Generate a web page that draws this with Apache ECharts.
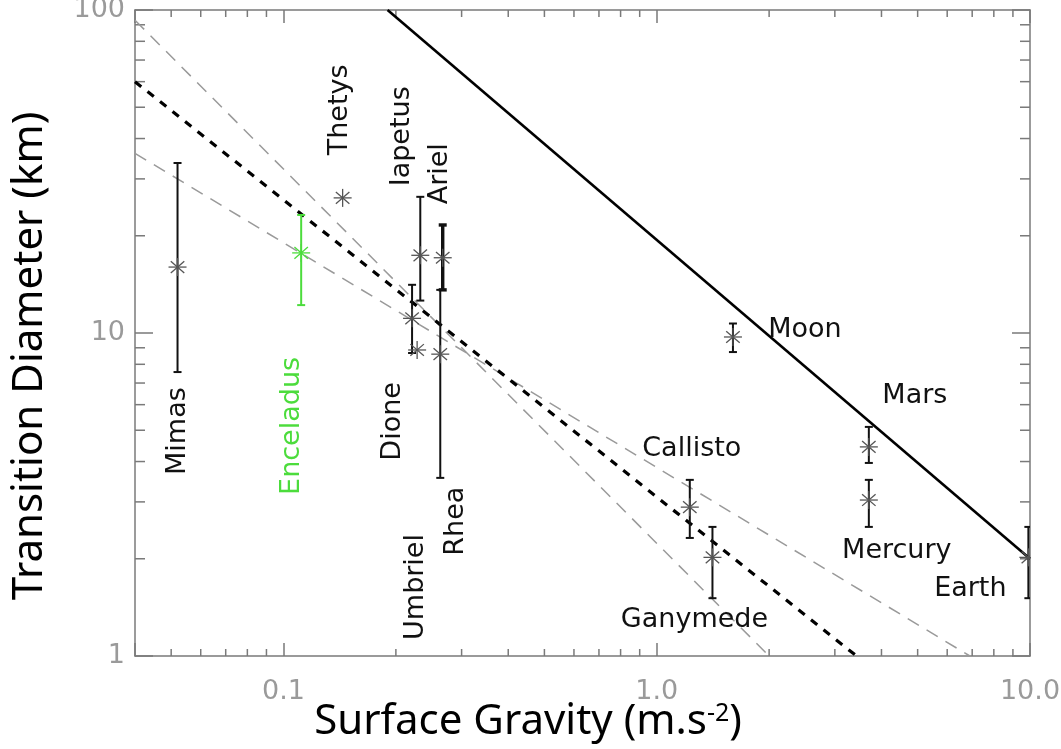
<!DOCTYPE html>
<html>
<head>
<meta charset="utf-8">
<script src="https://cdn.jsdelivr.net/npm/echarts@6/dist/echarts.min.js"></script>
<style>
html, body { margin: 0; padding: 0; background: #ffffff; }
#chart { width: 1061px; height: 749px; }
</style>
</head>
<body>
<div id="chart"></div>
<script>
// ---------------- data ----------------
const bodies       = ['Mimas', 'Enceladus', 'Thetys', 'Iapetus', 'Ariel', 'Dione', 'Umbriel', 'Rhea',
                      'Moon', 'Mars', 'Mercury', 'Earth', 'Callisto', 'Ganymede'];
const gravity      = [0.052, 0.1115, 0.144, 0.2325, 0.267, 0.221, 0.228, 0.263,
                      1.60, 3.70, 3.70, 9.9, 1.226, 1.41];
const diameter     = [16.0, 17.7, 26.2, 17.4, 17.1, 11.1, 8.86, 8.6,
                      9.72, 4.44, 3.04, 2.02, 2.89, 2.02];
const diameterHigh = [33.6, 23.2, null, 26.4, 21.6, 14.1, null, 13.6,
                      10.7, 5.12, 3.51, 2.51, 3.51, 2.51];
const diameterLow  = [7.57, 12.2, null, 12.6, 13.6, 8.67, null, 3.56,
                      8.73, 3.96, 2.51, 1.51, 2.32, 1.51];

// fitted relations (end points of each line)
const solidFitX = [0.19, 10];   const solidFitY = [100, 2];
const meanFitX  = [0.04, 3.43]; const meanFitY  = [60, 1];
const steepFitX = [0.04, 2.0];  const steepFitY = [93, 1];
const flatFitX  = [0.04, 6.9];  const flatFitY  = [36, 1];

// axis ticks
const xTickValues = [0.1, 1, 10];
const xTickLabels = ['0.1', '1.0', '10.0'];
const yTickValues = [1, 10, 100];
const yTickLabels = ['1', '10', '100'];
const xMinorTicks = [0.05, 0.06, 0.07, 0.08, 0.09, 0.2, 0.3, 0.4, 0.5, 0.6, 0.7, 0.8, 0.9, 2, 3, 4, 5, 6, 7, 8, 9];
const yMinorTicks = [2, 3, 4, 5, 6, 7, 8, 9, 20, 30, 40, 50, 60, 70, 80, 90];

// ---------------- layout / style ----------------
const highlighted = ['Enceladus'];
const thickBars = ['Ariel'];
// label placement: [dx, dy] in pixels from the point, rotated?
const labelLayout = {
  Mimas: [0, 164, true], Enceladus: [-9, 173, true], Thetys: [-3, -88, true],
  Iapetus: [-18, -119, true], Ariel: [-3, -84, true], Dione: [-19, 103, true],
  Umbriel: [-1, 237, true], Rhea: [16, 167, true],
  Moon: [72, -7, false], Mars: [46, -51, false], Mercury: [28, 51, false],
  Earth: [-58, 32, false], Callisto: [2, -58, false], Ganymede: [-18, 63, false]
};
const GREEN = '#4cdc3c';
const AXIS = '#7a7a7a';
const LABEL_FONT = '27px "DejaVu Sans"';

function pair(xs, ys) { return xs.map((x, i) => [x, ys[i]]); }
function matchLabel(v, values, labels) {
  for (let i = 0; i < values.length; i++) {
    if (Math.abs(Math.log10(v) - Math.log10(values[i])) < 1e-6) return labels[i];
  }
  return '';
}

const chart = echarts.init(document.getElementById('chart'), null, { renderer: 'canvas' });

function axisCommon(extra) {
  return Object.assign({
    logBase: 10,
    axisLine: { show: true, onZero: false, lineStyle: { color: AXIS, width: 1.5 } },
    splitLine: { show: false },
    minorSplitLine: { show: false }
  }, extra);
}

const option = {
  animation: false,
  backgroundColor: '#ffffff',
  grid: { left: 135, right: 31, top: 10, bottom: 93, containLabel: false, outerBoundsMode: 'none' },
  xAxis: [
    axisCommon({
      type: 'log', min: 0.04, max: 10, position: 'bottom',
      axisTick: { show: true, inside: true, length: 13, lineStyle: { color: AXIS, width: 1.5 } },
      axisLabel: {
        formatter: v => matchLabel(v, xTickValues, xTickLabels),
        color: '#9a9a9a', fontFamily: 'DejaVu Sans', fontSize: 27, margin: 22
      }
    }),
    axisCommon({
      type: 'log', min: 0.04, max: 10, position: 'top',
      axisTick: { show: true, inside: true, length: 13, lineStyle: { color: AXIS, width: 1.5 } },
      axisLabel: { show: false }
    })
  ],
  yAxis: [
    axisCommon({
      type: 'log', min: 1, max: 100, position: 'left',
      axisTick: { show: true, inside: true, length: 18, lineStyle: { color: AXIS, width: 1.5 } },
      axisLabel: {
        formatter: v => matchLabel(v, yTickValues, yTickLabels),
        color: '#9a9a9a', fontFamily: 'DejaVu Sans', fontSize: 27, margin: 10
      }
    }),
    axisCommon({
      type: 'log', min: 1, max: 100, position: 'right',
      axisTick: { show: true, inside: true, length: 18, lineStyle: { color: AXIS, width: 1.5 } },
      axisLabel: { show: false }
    })
  ],
  graphic: [
    {
      type: 'text', x: 30, y: 356, rotation: Math.PI / 2, silent: true,
      style: { text: 'Transition Diameter (km)', font: '42px "Noto Sans"', fill: '#000',
               align: 'center', verticalAlign: 'middle' }
    },
    {
      type: 'text', x: 528, y: 722, silent: true,
      style: {
        text: 'Surface Gravity (m.s{sup|-2})', font: '42px "Noto Sans"', fill: '#000',
        align: 'center', verticalAlign: 'middle',
        rich: { sup: { fontSize: 25, fontFamily: 'Noto Sans', fill: '#000', verticalAlign: 'top' } }
      }
    }
  ],
  series: [
    // minor ticks on all four sides
    {
      type: 'custom', name: 'minorTicks', silent: true, clip: false, z: 1,
      encode: { x: 0, y: 1 },
      data: [[1, 10]],
      renderItem(params, api) {
        const cs = params.coordSys;
        const children = [];
        const st = { stroke: AXIS, lineWidth: 1.5 };
        xMinorTicks.forEach(v => {
          const px = api.coord([v, 10])[0];
          children.push({ type: 'line', shape: { x1: px, y1: cs.y + cs.height, x2: px, y2: cs.y + cs.height - 7 }, style: st });
          children.push({ type: 'line', shape: { x1: px, y1: cs.y, x2: px, y2: cs.y + 7 }, style: st });
        });
        yMinorTicks.forEach(v => {
          const py = api.coord([1, v])[1];
          children.push({ type: 'line', shape: { x1: cs.x, y1: py, x2: cs.x + 10, y2: py }, style: st });
          children.push({ type: 'line', shape: { x1: cs.x + cs.width, y1: py, x2: cs.x + cs.width - 10, y2: py }, style: st });
        });
        return { type: 'group', children };
      }
    },
    {
      type: 'line', name: 'steep', data: pair(steepFitX, steepFitY), showSymbol: false, silent: true, z: 2,
      lineStyle: { color: '#9a9a9a', width: 1.5, type: [13, 9] }
    },
    {
      type: 'line', name: 'flat', data: pair(flatFitX, flatFitY), showSymbol: false, silent: true, z: 2,
      lineStyle: { color: '#9a9a9a', width: 1.5, type: [13, 9] }
    },
    {
      type: 'line', name: 'mean', data: pair(meanFitX, meanFitY), showSymbol: false, silent: true, z: 3,
      lineStyle: { color: '#000', width: 3.2, type: [8, 8] }
    },
    {
      type: 'line', name: 'solid', data: pair(solidFitX, solidFitY), showSymbol: false, silent: true, z: 3,
      lineStyle: { color: '#000', width: 2.6, type: 'solid' }
    },
    // points with error bars
    {
      type: 'custom', name: 'bodies', clip: true, silent: true, z: 5,
      encode: { x: 0, y: 1 },
      data: bodies.map((b, i) => [gravity[i], diameter[i]]),
      renderItem(params, api) {
        const i = params.dataIndex;
        const p = api.coord([gravity[i], diameter[i]]);
        const hi = highlighted.includes(bodies[i]);
        const barColor = hi ? GREEN : '#111';
        const starColor = hi ? GREEN : '#555';
        const w = thickBars.includes(bodies[i]) ? 3.4 : 2;
        const children = [];
        if (diameterHigh[i] != null && diameterLow[i] != null) {
          const t = api.coord([gravity[i], diameterHigh[i]])[1];
          const b = api.coord([gravity[i], diameterLow[i]])[1];
          const bs = { stroke: barColor, lineWidth: w };
          children.push({ type: 'line', shape: { x1: p[0], y1: t, x2: p[0], y2: b }, style: bs });
          children.push({ type: 'line', shape: { x1: p[0] - 4, y1: t, x2: p[0] + 4, y2: t }, style: bs });
          children.push({ type: 'line', shape: { x1: p[0] - 4, y1: b, x2: p[0] + 4, y2: b }, style: bs });
        }
        const r = 9;
        const ss = { stroke: starColor, lineWidth: 1.3 };
        children.push({ type: 'line', shape: { x1: p[0], y1: p[1] - r, x2: p[0], y2: p[1] + r }, style: ss });
        children.push({ type: 'line', shape: { x1: p[0] - r, y1: p[1], x2: p[0] + r, y2: p[1] }, style: ss });
        children.push({ type: 'line', shape: { x1: p[0] - 0.75 * r, y1: p[1] - 0.65 * r, x2: p[0] + 0.75 * r, y2: p[1] + 0.65 * r }, style: ss });
        children.push({ type: 'line', shape: { x1: p[0] - 0.75 * r, y1: p[1] + 0.65 * r, x2: p[0] + 0.75 * r, y2: p[1] - 0.65 * r }, style: ss });
        return { type: 'group', children };
      }
    },
    // body names
    {
      type: 'custom', name: 'names', clip: false, silent: true, z: 6,
      encode: { x: 0, y: 1 },
      data: bodies.map((b, i) => [gravity[i], diameter[i]]),
      renderItem(params, api) {
        const i = params.dataIndex;
        const name = bodies[i];
        const lay = labelLayout[name];
        const p = api.coord([gravity[i], diameter[i]]);
        return {
          type: 'text', x: p[0] + lay[0], y: p[1] + lay[1], rotation: lay[2] ? Math.PI / 2 : 0,
          style: {
            text: name, font: LABEL_FONT,
            fill: highlighted.includes(name) ? GREEN : '#111',
            align: 'center', verticalAlign: 'middle'
          }
        };
      }
    }
  ]
};

chart.setOption(option);
</script>
</body>
</html>
